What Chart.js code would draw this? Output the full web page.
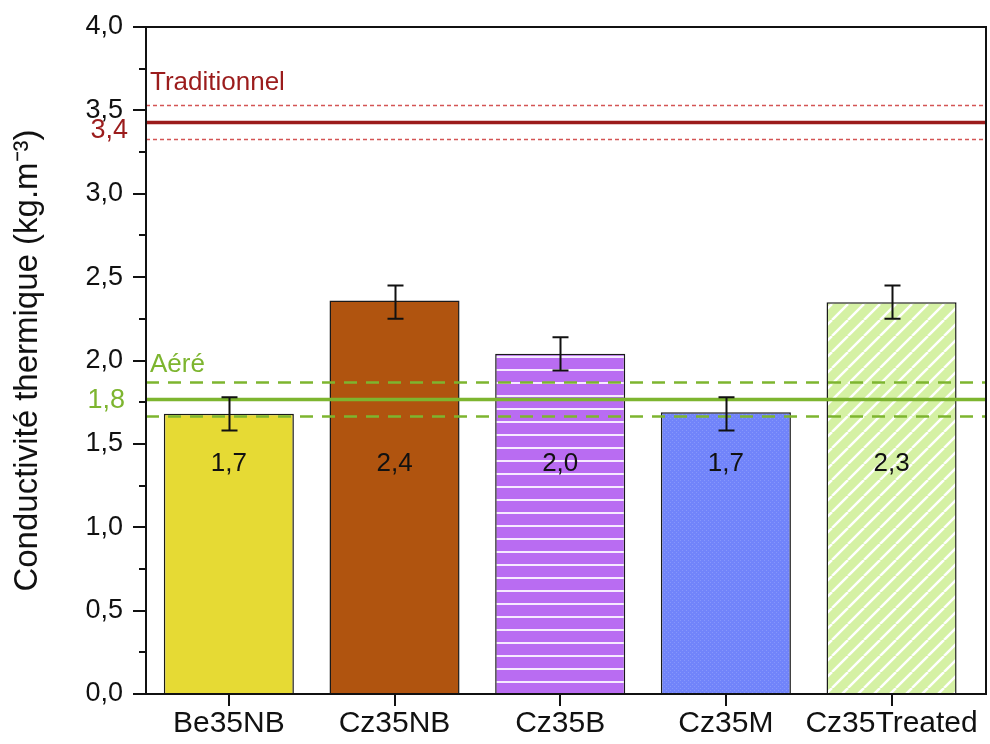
<!DOCTYPE html>
<html>
<head>
<meta charset="utf-8">
<script src="https://cdn.jsdelivr.net/npm/chart.js@4.4.1/dist/chart.umd.min.js"></script>
<style>
  html, body { margin: 0; padding: 0; background: #fff; }
  #wrap { width: 990px; height: 744px; }
</style>
</head>
<body>
<div id="wrap"><canvas id="my-chart" width="990" height="744"></canvas></div>
<script>
const categories = ["Be35NB", "Cz35NB", "Cz35B", "Cz35M", "Cz35Treated"];
const values = [1.68, 2.36, 2.04, 1.69, 2.35];
const errLow = [1.58, 2.25, 1.94, 1.58, 2.25];
const errHigh = [1.78, 2.45, 2.14, 1.78, 2.45];
const valueLabels = ["1,7", "2,4", "2,0", "1,7", "2,3"];
const yTicks = [0, 0.5, 1, 1.5, 2, 2.5, 3, 3.5, 4];

// reference bands: [mean, low, high]
const tradRef = [3.43, 3.33, 3.53];
const aereRef = [1.77, 1.67, 1.87];

const FONT = "'Liberation Sans', Arial, sans-serif";
const RED = "#9b1c1c";
const GREEN = "#7db52f";

const makePattern = (size, draw) => {
    const c = document.createElement("canvas");
    c.width = size; c.height = size;
    const ctx = c.getContext("2d");
    draw(ctx, size);
    return ctx.createPattern(c, "repeat");
};

const purpleStripes = makePattern(13, (ctx, s) => {
    ctx.fillStyle = "#b96cf2";
    ctx.fillRect(0, 0, s, s);
    ctx.fillStyle = "#f6eaff";
    ctx.fillRect(0, 5, s, 2);
});

const blueDots = makePattern(4, (ctx, s) => {
    ctx.fillStyle = "#7184fa";
    ctx.fillRect(0, 0, s, s);
    ctx.fillStyle = "#8697fb";
    ctx.fillRect(0, 0, 1, 1);
    ctx.fillRect(2, 2, 1, 1);
});

const greenHatch = makePattern(16, (ctx, s) => {
    ctx.fillStyle = "#d5f1a4";
    ctx.fillRect(0, 0, s, s);
    ctx.strokeStyle = "#ffffff";
    ctx.lineWidth = 2.5;
    for (let k = -1; k <= 1; k++) {
        ctx.beginPath();
        ctx.moveTo(k * s, s);
        ctx.lineTo(k * s + s, 0);
        ctx.stroke();
    }
});

const barColors = ["#e6da34", "#b0540f", purpleStripes, blueDots, greenHatch];

const overlay = {
    id: "overlay",
    afterDatasetsDraw(chart) {
        const ctx = chart.ctx;
        const area = chart.chartArea;
        const x = chart.scales.x;
        const y = chart.scales.y;
        ctx.save();

        // reference lines
        const drawLine = (v, color, width, dash) => {
            const py = Math.round(y.getPixelForValue(v)) + 0.5;
            ctx.strokeStyle = color;
            ctx.lineWidth = width;
            ctx.setLineDash(dash);
            ctx.beginPath();
            ctx.moveTo(area.left, py);
            ctx.lineTo(area.right, py);
            ctx.stroke();
        };
        drawLine(tradRef[1], "#d45555", 1.3, [4, 3]);
        drawLine(tradRef[2], "#d45555", 1.3, [4, 3]);
        drawLine(tradRef[0], RED, 3.5, []);
        drawLine(aereRef[1], GREEN, 2.5, [13, 9]);
        drawLine(aereRef[2], GREEN, 2.5, [13, 9]);
        drawLine(aereRef[0], GREEN, 3.5, []);
        ctx.setLineDash([]);

        // error bars
        ctx.strokeStyle = "#111";
        ctx.lineWidth = 2;
        categories.forEach((c, i) => {
            const px = Math.round(x.getPixelForValue(i)) + 0.5;
            const yl = y.getPixelForValue(errLow[i]);
            const yh = y.getPixelForValue(errHigh[i]);
            ctx.beginPath();
            ctx.moveTo(px, yl); ctx.lineTo(px, yh);
            ctx.moveTo(px - 8, yl); ctx.lineTo(px + 8, yl);
            ctx.moveTo(px - 8, yh); ctx.lineTo(px + 8, yh);
            ctx.stroke();
        });

        // value labels inside bars
        ctx.fillStyle = "#111";
        ctx.font = "26px " + FONT;
        ctx.textAlign = "center";
        ctx.textBaseline = "middle";
        categories.forEach((c, i) => {
            ctx.fillText(valueLabels[i], x.getPixelForValue(i), y.getPixelForValue(1.38));
        });

        // reference labels
        ctx.textAlign = "left";
        ctx.textBaseline = "alphabetic";
        ctx.font = "26px " + FONT;
        ctx.fillStyle = RED;
        ctx.fillText("Traditionnel", area.left + 4, y.getPixelForValue(3.62));
        ctx.fillStyle = GREEN;
        ctx.fillText("Aéré", area.left + 4, y.getPixelForValue(1.93));

        ctx.textAlign = "right";
        ctx.textBaseline = "middle";
        ctx.font = "27px " + FONT;
        ctx.fillStyle = RED;
        ctx.fillText("3,4", area.left - 18, y.getPixelForValue(3.38));
        ctx.fillStyle = GREEN;
        ctx.fillText("1,8", area.left - 21, y.getPixelForValue(1.76));

        // frame
        ctx.strokeStyle = "#111";
        ctx.lineWidth = 2;
        ctx.strokeRect(area.left, area.top, area.right - area.left, area.bottom - area.top);

        // minor ticks
        for (let v = 0.25; v < 4; v += 0.5) {
            const py = Math.round(y.getPixelForValue(v));
            ctx.beginPath();
            ctx.moveTo(area.left - 7, py);
            ctx.lineTo(area.left, py);
            ctx.stroke();
        }
        ctx.restore();
    }
};

new Chart(document.getElementById("my-chart"), {
    type: "bar",
    data: {
        datasets: [{
            data: values.map((v, i) => ({ x: i, y: v })),
            backgroundColor: barColors,
            borderColor: "#1a1a1a",
            borderWidth: 1.5,
            categoryPercentage: 1,
            barPercentage: 0.785,
        }],
    },
    options: {
        responsive: false,
        animation: false,
        layout: { padding: { top: 27, right: 4, left: 0, bottom: 0 } },
        plugins: {
            legend: { display: false },
            tooltip: { enabled: false },
        },
        scales: {
            x: {
                type: "linear",
                offset: false,
                min: -0.5,
                max: 4.57,
                afterBuildTicks(scale) { scale.ticks = categories.map((c, i) => ({ value: i })); },
                grid: { display: true, drawOnChartArea: false, offset: false, color: "#111", lineWidth: 2, tickLength: 12 },
                border: { display: false },
                ticks: {
                    color: "#111",
                    font: { family: FONT, size: 30 },
                    padding: 0,
                    maxRotation: 0,
                    autoSkip: false,
                    callback: v => categories[v] ?? "",
                },
                afterFit(scale) { scale.height = 50; },
            },
            y: {
                min: 0,
                max: 4,
                afterBuildTicks(scale) { scale.ticks = yTicks.map(v => ({ value: v })); },
                grid: { display: true, drawOnChartArea: false, color: "#111", lineWidth: 2, tickLength: 13 },
                border: { display: false },
                ticks: {
                    color: "#111",
                    font: { family: FONT, size: 27 },
                    padding: 10,
                    callback: v => v.toFixed(1).replace(".", ","),
                },
                title: {
                    display: true,
                    text: "Conductivité thermique (kg.m⁻³)",
                    color: "#111",
                    font: { family: FONT, size: 33 },
                    padding: { top: 8, bottom: 0 },
                },
                afterFit(scale) { scale.width = 146; },
            },
        },
    },
    plugins: [overlay],
});
</script>
</body>
</html>
